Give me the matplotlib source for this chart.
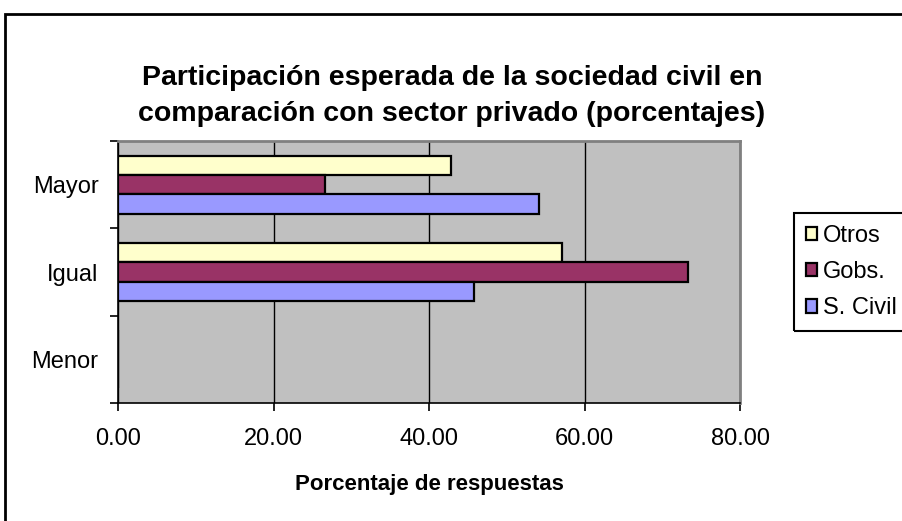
import matplotlib
matplotlib.use("Agg")
import matplotlib.pyplot as plt
import numpy as np
from matplotlib.patches import Rectangle
from matplotlib.ticker import FormatStrFormatter, FixedLocator

plt.rcParams['font.family'] = ['Liberation Sans', 'DejaVu Sans']

categories = ["Menor", "Igual", "Mayor"]
series_names = ["Otros", "Gobs.", "S. Civil"]
otros = [0.0, 57.14, 42.86]
gobs = [0.0, 73.33, 26.67]
scivil = [0.0, 45.83, 54.17]
colors = ["#FFFFCC", "#993366", "#9999FF"]

W, H = 902, 521
fig = plt.figure(figsize=(W / 100, H / 100), dpi=100)
fig.patch.set_facecolor("white")

# outer chart frame (extends beyond right and bottom edges)
frame = Rectangle((4.5 / W, -0.1), 1.2, (H - 13.5) / H + 0.1, transform=fig.transFigure,
                  fill=False, edgecolor="black", lw=2, clip_on=False)
fig.add_artist(frame)

left, right, top, bottom = 118, 740, 141, 403
ax = fig.add_axes([left / W, 1 - bottom / H, (right - left) / W, (bottom - top) / H])
ax.set_facecolor("#C0C0C0")

y = np.arange(len(categories))
h = 1 / 4.5
for vals, off, c, name in zip([otros, gobs, scivil], [h, 0, -h], colors, series_names):
    ax.barh(y + off, vals, height=h, color=c, edgecolor="black", linewidth=1.6, label=name, zorder=3)

ax.set_xlim(0, 80)
ax.set_ylim(-0.5, 2.5)
ax.set_xticks([0, 20, 40, 60, 80])
ax.xaxis.set_major_formatter(FormatStrFormatter("%.2f"))
ax.grid(axis="x", color="black", lw=1, zorder=1)
ax.set_axisbelow(True)

ax.set_yticks(y)
ax.set_yticklabels(categories)
ax.yaxis.set_minor_locator(FixedLocator([-0.5, 0.5, 1.5, 2.5]))
ax.tick_params(axis="y", which="major", length=0, labelsize=17, pad=14)
ax.tick_params(axis="y", which="minor", length=6, width=1.2, direction="out")
ax.tick_params(axis="x", which="major", length=6, width=1.2, direction="out", labelsize=17, pad=12)

for s in ["top", "right"]:
    ax.spines[s].set_color("#808080")
    ax.spines[s].set_linewidth(2)
for s in ["left", "bottom"]:
    ax.spines[s].set_color("black")
    ax.spines[s].set_linewidth(1.2)

ax.set_xlabel("Porcentaje de respuestas", fontsize=16, fontweight="bold", labelpad=17)

fig.text(452 / W, 1 - 96 / H,
         "Participación esperada de la sociedad civil en\ncomparación con sector privado (porcentajes)",
         ha="center", va="center", fontsize=20.5, fontweight="bold", linespacing=1.5)

# legend box (its right side runs past the figure edge, as in the reference)
fig.add_artist(Rectangle((793.5 / W, 1 - 331 / H), 200 / W, 118 / H, transform=fig.transFigure,
                         fill=False, edgecolor="black", lw=1.5, clip_on=False))
leg = ax.legend(loc="center left", bbox_to_anchor=(795 / W, 1 - 272 / H),
                bbox_transform=fig.transFigure,
                fontsize=17, frameon=False, handlelength=0.5,
                handleheight=0.5, handletextpad=0.25, labelspacing=0.6, borderpad=0.45,
                borderaxespad=0)

fig.savefig("out.png", dpi=100)
